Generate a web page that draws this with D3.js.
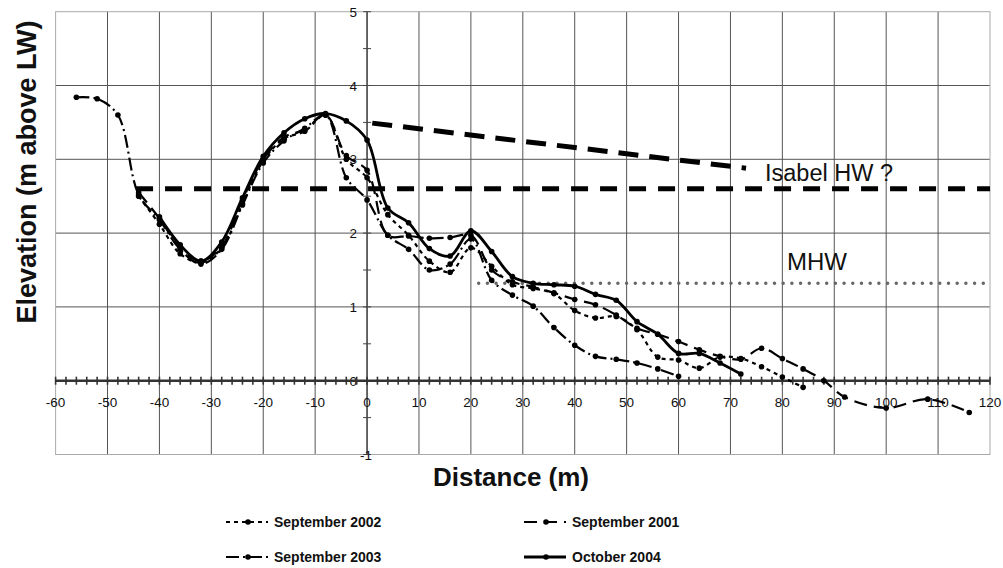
<!DOCTYPE html>
<html>
<head>
<meta charset="utf-8">
<script src="https://cdn.jsdelivr.net/npm/d3@7"></script>
<style>
  body { margin: 0; background: #fff; }
  text { font-family: Arial, "Liberation Sans", sans-serif; fill: #111; }
</style>
</head>
<body>
<div id="chart"></div>
<script>
// profile data (distance in m, elevation in m above LW)
var dist_2002  = [-44,-40,-36,-32,-28,-24,-20,-16,-12,-8,-4,0,4,8,12,16,20,24,28,32,36,40,44,48,52,56,60,64,68,72,76,80,84];
var elev_2002  = [2.5,2.12,1.72,1.6,1.8,2.4,2.98,3.28,3.38,3.6,3.0,2.75,2.25,1.97,1.62,1.47,1.8,1.55,1.3,1.25,1.18,0.95,0.85,0.87,0.69,0.32,0.28,0.17,0.32,0.3,0.19,0.05,-0.09];

var dist_2001  = [-44,-40,-36,-32,-28,-24,-20,-16,-12,-8,-4,0,4,8,12,16,20,24,28,32,36,40,44,48,52,56,60,64,68,72,76,80,84,88,92,100,108,116];
var elev_2001  = [2.55,2.2,1.8,1.62,1.82,2.45,3.0,3.3,3.4,3.6,3.05,2.85,1.97,1.96,1.93,1.94,1.97,1.5,1.34,1.27,1.19,1.1,1.03,0.89,0.71,0.63,0.53,0.42,0.33,0.29,0.44,0.3,0.16,0.0,-0.22,-0.37,-0.25,-0.43];

var dist_2003  = [-56,-52,-48,-44,-40,-36,-32,-28,-24,-20,-16,-12,-8,-4,0,4,8,12,16,20,24,28,32,36,40,44,48,52,56,60];
var elev_2003  = [3.84,3.82,3.6,2.52,2.18,1.78,1.58,1.78,2.38,2.95,3.25,3.42,3.6,2.75,2.45,1.97,1.78,1.5,1.58,1.92,1.36,1.16,1.01,0.72,0.48,0.33,0.29,0.24,0.16,0.06];

var dist_2004  = [-40,-36,-32,-28,-24,-20,-16,-12,-8,-4,0,4,8,12,16,20,24,28,32,36,40,44,48,52,56,60,64,68,72];
var elev_2004  = [2.22,1.84,1.62,1.88,2.48,3.04,3.36,3.55,3.62,3.52,3.26,2.34,2.14,1.79,1.69,2.03,1.75,1.41,1.32,1.3,1.28,1.17,1.09,0.8,0.63,0.37,0.37,0.24,0.09];

var series_names = ['September 2002', 'September 2001', 'September 2003', 'October 2004'];

// reference levels
var isabel_x   = [1, 73];
var isabel_y   = [3.49, 2.88];
var hw_x       = [-44.5, 120];
var hw_y       = [2.6, 2.6];
var mhw_x      = [21.5, 120];
var mhw_y      = [1.32, 1.32];

var x_ticks    = d3.range(-60, 121, 10);
var y_ticks    = [5, 4, 3, 2, 1, 0, -1];

var chart_width  = 1003;
var chart_height = 568;

var svg = d3.select('#chart')
    .append('svg')
    .attr('width', chart_width)
    .attr('height', chart_height);

var x_scale = d3.scaleLinear().domain([-60, 120]).range([55.6, 990]);
var y_scale = d3.scaleLinear().domain([-1, 5]).range([454.5, 11.7]);

// grid
svg.append('g')
    .selectAll('line')
    .data(x_ticks.filter(function(d){ return d > -60 && d < 120; }))
    .enter().append('line')
    .attr('x1', function(d){ return x_scale(d); })
    .attr('x2', function(d){ return x_scale(d); })
    .attr('y1', y_scale(5))
    .attr('y2', y_scale(-1))
    .attr('stroke', '#555')
    .attr('stroke-width', 1);

svg.append('g')
    .selectAll('line')
    .data([1, 2, 3, 4])
    .enter().append('line')
    .attr('x1', x_scale(-60))
    .attr('x2', x_scale(120))
    .attr('y1', function(d){ return y_scale(d); })
    .attr('y2', function(d){ return y_scale(d); })
    .attr('stroke', '#555')
    .attr('stroke-width', 1);

// plot border
svg.append('rect')
    .attr('x', x_scale(-60))
    .attr('y', y_scale(5))
    .attr('width', x_scale(120) - x_scale(-60))
    .attr('height', y_scale(-1) - y_scale(5))
    .attr('fill', 'none')
    .attr('stroke', '#aaa')
    .attr('stroke-width', 1);

// y axis at x = 0 with half-unit minor ticks
svg.append('line')
    .attr('x1', x_scale(0)).attr('x2', x_scale(0))
    .attr('y1', y_scale(5)).attr('y2', y_scale(-1))
    .attr('stroke', '#444').attr('stroke-width', 1.3);

svg.append('g')
    .selectAll('line')
    .data(d3.range(-1, 5.01, 0.5))
    .enter().append('line')
    .attr('x1', x_scale(0) - 4)
    .attr('x2', x_scale(0) + 4)
    .attr('y1', function(d){ return y_scale(d); })
    .attr('y2', function(d){ return y_scale(d); })
    .attr('stroke', '#444');

svg.append('g')
    .selectAll('text')
    .data(y_ticks)
    .enter().append('text')
    .attr('x', function(d){ return d < 0 ? x_scale(0) + 5 : x_scale(0) - 10; })
    .attr('y', function(d){ return y_scale(d) + 5; })
    .attr('text-anchor', 'end')
    .attr('font-size', 13.5)
    .text(function(d){ return d; });

// x axis at y = 0 with crossing minor ticks every 2 m
svg.append('line')
    .attr('x1', x_scale(-60)).attr('x2', x_scale(120))
    .attr('y1', y_scale(0)).attr('y2', y_scale(0))
    .attr('stroke', '#333').attr('stroke-width', 2.5);

svg.append('g')
    .selectAll('line')
    .data(d3.range(-60, 121, 2))
    .enter().append('line')
    .attr('x1', function(d){ return x_scale(d); })
    .attr('x2', function(d){ return x_scale(d); })
    .attr('y1', y_scale(0) - 4)
    .attr('y2', y_scale(0) + 4)
    .attr('stroke', '#333')
    .attr('stroke-width', 1.6);

svg.append('g')
    .selectAll('text')
    .data(x_ticks)
    .enter().append('text')
    .attr('x', function(d){ return x_scale(d); })
    .attr('y', y_scale(0) + 26)
    .attr('text-anchor', 'middle')
    .attr('font-size', 13.5)
    .text(function(d){ return d; });

// reference lines
var ref_line = d3.line()
    .x(function(d){ return x_scale(d[0]); })
    .y(function(d){ return y_scale(d[1]); });

svg.append('path')
    .attr('d', ref_line(d3.zip(hw_x, hw_y)))
    .attr('fill', 'none')
    .attr('stroke', '#000')
    .attr('stroke-width', 5)
    .attr('stroke-dasharray', '17,12');

svg.append('path')
    .attr('d', ref_line(d3.zip(isabel_x, isabel_y)))
    .attr('fill', 'none')
    .attr('stroke', '#000')
    .attr('stroke-width', 5)
    .attr('stroke-dasharray', '20,11');

svg.append('path')
    .attr('d', ref_line(d3.zip(mhw_x, mhw_y)))
    .attr('fill', 'none')
    .attr('stroke', '#666')
    .attr('stroke-width', 3.5)
    .attr('stroke-linecap', 'round')
    .attr('stroke-dasharray', '0,8.7');

svg.append('text')
    .attr('x', 765).attr('y', 181)
    .attr('font-size', 23.5)
    .text('Isabel HW ?');

svg.append('text')
    .attr('x', 787).attr('y', 270)
    .attr('font-size', 24)
    .text('MHW');

// survey profiles
var series = [
    { name: series_names[0], x: dist_2002, y: elev_2002, dash: '4,4',        width: 2.2 },
    { name: series_names[1], x: dist_2001, y: elev_2001, dash: '13,7',       width: 2.2 },
    { name: series_names[2], x: dist_2003, y: elev_2003, dash: '13,4,2,4',   width: 2.2 },
    { name: series_names[3], x: dist_2004, y: elev_2004, dash: null,         width: 2.8 }
];

var profile_line = d3.line()
    .x(function(d){ return x_scale(d[0]); })
    .y(function(d){ return y_scale(d[1]); })
    .curve(d3.curveCatmullRom.alpha(0.5));

series.forEach(function(s){
    var pts = d3.zip(s.x, s.y);
    svg.append('path')
        .attr('d', profile_line(pts))
        .attr('fill', 'none')
        .attr('stroke', '#000')
        .attr('stroke-width', s.width)
        .attr('stroke-dasharray', s.dash);
    svg.append('g')
        .selectAll('circle')
        .data(pts)
        .enter().append('circle')
        .attr('cx', function(d){ return x_scale(d[0]); })
        .attr('cy', function(d){ return y_scale(d[1]); })
        .attr('r', 2.8)
        .attr('fill', '#000');
});

// axis titles
svg.append('text')
    .attr('x', 511).attr('y', 486)
    .attr('text-anchor', 'middle')
    .attr('font-size', 26)
    .attr('font-weight', 'bold')
    .text('Distance (m)');

svg.append('text')
    .attr('transform', 'translate(36,172) rotate(-90)')
    .attr('text-anchor', 'middle')
    .attr('font-size', 27)
    .attr('font-weight', 'bold')
    .text('Elevation (m above LW)');

// legend
var legend_pos = [[226, 522], [524, 522], [226, 557], [524, 557]];

series.forEach(function(s, i){
    var lx = legend_pos[i][0], ly = legend_pos[i][1];
    svg.append('line')
        .attr('x1', lx).attr('x2', lx + 42)
        .attr('y1', ly).attr('y2', ly)
        .attr('stroke', '#000')
        .attr('stroke-width', s.width)
        .attr('stroke-dasharray', s.dash);
    svg.append('circle')
        .attr('cx', lx + 22).attr('cy', ly)
        .attr('r', 2.8)
        .attr('fill', '#000');
    svg.append('text')
        .attr('x', lx + 48).attr('y', ly + 5)
        .attr('font-size', 14)
        .attr('font-weight', 'bold')
        .text(s.name);
});
</script>
</body>
</html>
